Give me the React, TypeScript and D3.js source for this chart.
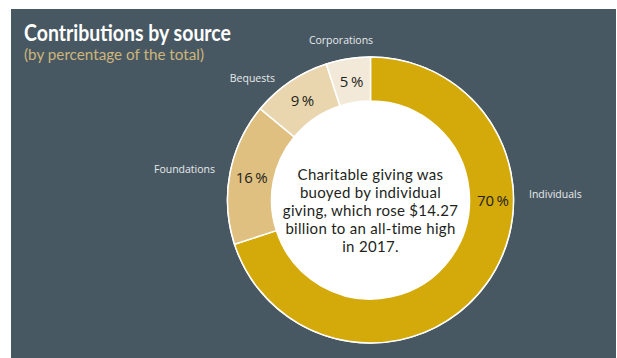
import React from "react";
import * as d3 from "d3";

const categories = ["Individuals", "Foundations", "Bequests", "Corporations"];
const values = [70, 16, 9, 5];
const sliceColors = ["#D4A90A", "#DFC080", "#E9D6AE", "#F3E9D9"];
const titleText = "Contributions by source";
const subtitleText = "(by percentage of the total)";
const centerLines = [
  "Charitable giving was",
  "buoyed by individual",
  "giving, which rose $14.27",
  "billion to an all-time high",
  "in 2017.",
];

const W = 617;
const H = 358;
const cx = 370.5;
const cy = 200;
const R = 143;
const r0 = 99;

// external label placement (anchor/offset per category)
const labelPos: Record<string, { x: number; y: number; anchor: string }> = {
  Individuals: { x: 529, y: 194, anchor: "start" },
  Foundations: { x: 215, y: 169, anchor: "end" },
  Bequests: { x: 275, y: 78, anchor: "end" },
  Corporations: { x: 341, y: 40, anchor: "middle" },
};

export default function App() {
  const pie = d3
    .pie<number>()
    .sort(null)
    .startAngle(0)
    .endAngle(2 * Math.PI);
  const arcs = pie(values);
  const arc = d3.arc<d3.PieArcDatum<number>>().innerRadius(r0).outerRadius(R);
  const mid = (r0 + R) / 2;
  const labelArc = d3.arc<d3.PieArcDatum<number>>().innerRadius(mid).outerRadius(mid);

  return (
    <svg
      width={W}
      height={H}
      style={{ position: "absolute", left: 0, top: 0, background: "#fff" }}
      fontFamily="'Open Sans', 'Noto Sans', sans-serif"
    >
      <rect x={11} y={9} width={605} height={H - 9} fill="#485862" />
      <text
        x={24}
        y={40.5}
        fontSize={22}
        fontWeight="bold"
        fill="#ffffff"
        fontFamily="Lato, sans-serif"
        textLength={207}
        lengthAdjust="spacingAndGlyphs"
      >
        {titleText}
      </text>
      <text
        x={24}
        y={60}
        fontSize={14.5}
        fill="#CDB57C"
        fontFamily="Lato, sans-serif"
        textLength={180}
        lengthAdjust="spacingAndGlyphs"
      >
        {subtitleText}
      </text>
      <circle cx={cx} cy={cy} r={R + 0.8} fill="#ffffff" />
      <g transform={`translate(${cx},${cy})`}>
        {arcs.map((a, i) => (
          <path key={categories[i]} d={arc(a) || ""} fill={sliceColors[i]} stroke="#ffffff" strokeWidth={1.5} />
        ))}
        <circle r={r0} fill="#ffffff" />
        {arcs.map((a, i) => {
          // the big slice gets its label at 3 o'clock; others at the centroid
          const [x, y] =
            i === 0
              ? labelArc.centroid({ ...a, startAngle: Math.PI / 2, endAngle: Math.PI / 2 })
              : labelArc.centroid(a);
          return (
            <text
              key={"p" + categories[i]}
              x={x + (i === 0 ? 1.5 : 0)}
              y={y}
              textAnchor="middle"
              dominantBaseline="central"
              fontSize={15}
              fill="#231f20"
            >
              {values[i] + "\u2009%"}
            </text>
          );
        })}
      </g>
      {categories.map((c) => (
        <text
          key={"l" + c}
          x={labelPos[c].x}
          y={labelPos[c].y}
          textAnchor={labelPos[c].anchor as any}
          dominantBaseline="central"
          fontSize={10.5}
          fill="#E6EAEC"
        >
          {c}
        </text>
      ))}
      {centerLines.map((t, i) => (
        <text
          key={"c" + i}
          x={cx}
          y={174 + i * 18}
          textAnchor="middle"
          dominantBaseline="central"
          fontSize={15}
          fontFamily="Lato, sans-serif"
          letterSpacing={0.3}
          fill="#231f20"
        >
          {t}
        </text>
      ))}
    </svg>
  );
}
